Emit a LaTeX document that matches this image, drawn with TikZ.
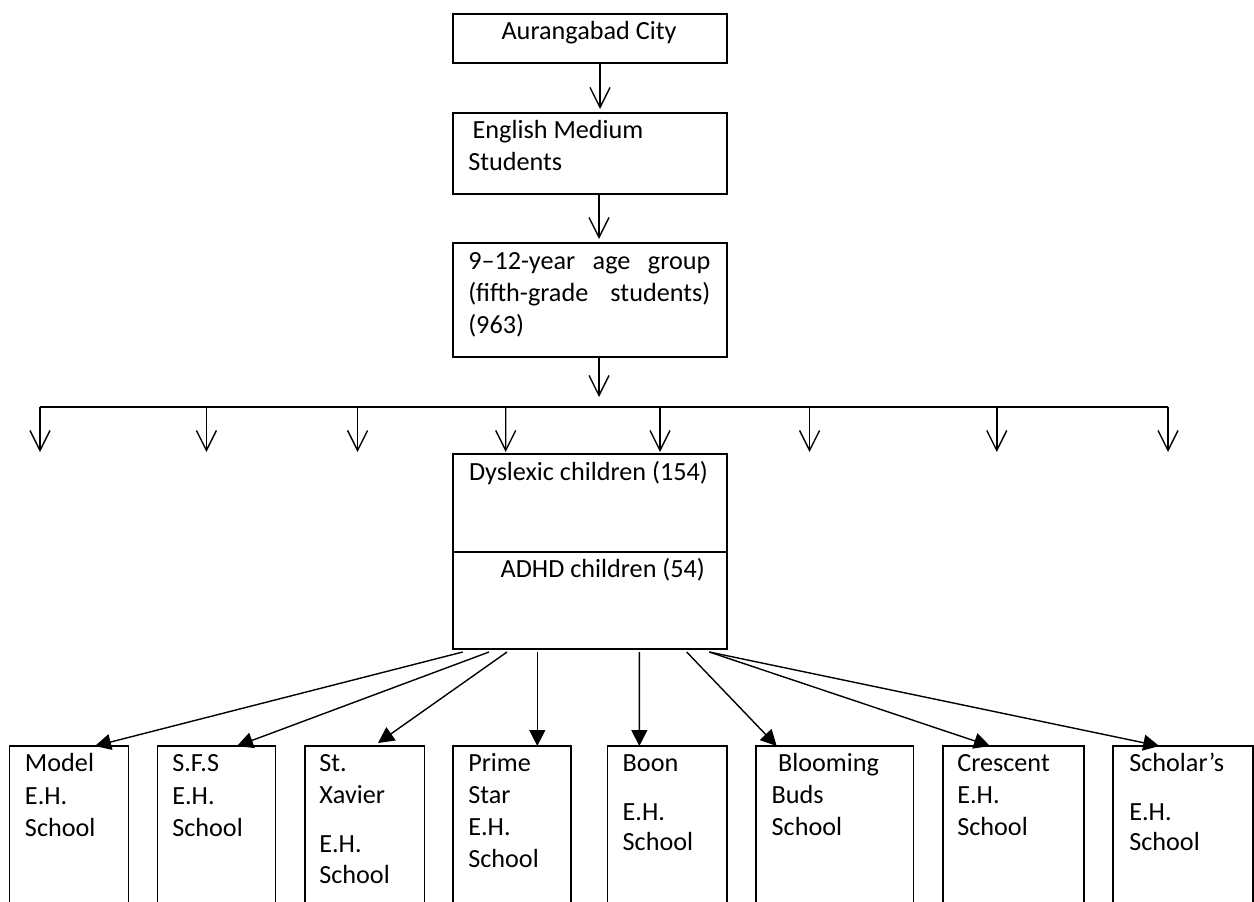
\documentclass[tikz,border=0pt]{standalone}
\usepackage{fontspec}
\setmainfont{Carlito}
\usetikzlibrary{arrows.meta}
\begin{document}
\begin{tikzpicture}[x=0.5pt,y=-0.5pt,
  box/.style={draw, line width=0.8pt, inner sep=0pt, outer sep=0pt},
  bigbox/.style={box, minimum width=137pt},
  txt/.style={inner sep=0pt, outer sep=0pt, anchor=base west, font=\fontsize{13.1pt}{16pt}\selectfont},
  openarr/.style={line width=0.7pt, -{Straight Barb[length=10pt,width=10pt]}},
  fillarr/.style={line width=0.7pt, -{Triangle[length=8pt,width=8pt]}},
  busline/.style={line width=1.3pt}]
\useasboundingbox (0,0) rectangle (1254,901);
\fill[white] (0,0) rectangle (1254,901);
\clip (0,0) rectangle (1254,901);

% top chain
\node[bigbox, minimum height=24.5pt] (city) at (590,38.5) {};
\node[bigbox, minimum height=40.5pt] (medium) at (590,153.5) {};
\node[bigbox, minimum height=57pt] (age) at (590,300) {};
\node[bigbox, minimum height=97.5pt] (dys) at (590,551.5) {};
\draw[line width=0.8pt] ([yshift=-0.25pt]dys.west) -- ([yshift=-0.25pt]dys.east);

\node[txt, anchor=base] (cityt) at (589,39.5) {Aurangabad City};
\node[txt] (medt1) at (472.7,138.3) {English Medium};
\node[txt] (medt2) at (468.3,170) {Students};
\node[txt] (aget1) at (468.3,269.3) {\hbox to 121pt{9–12-year\hfill age\hfill group}};
\node[txt] (aget2) at (468.3,301.5) {\hbox to 121pt{(fifth-grade\hfill students)}};
\node[txt] (aget3) at (468.3,333.5) {(963)};
\node[txt] (dyst) at (469,480) {Dyslexic children (154)};
\node[txt] (adhdt) at (500.7,577) {ADHD children (54)};

% bottom boxes
\node[box, minimum width=59.5pt, minimum height=92pt] (model) at (68.8,838) {};
\node[box, minimum width=59pt, minimum height=92pt] (sfs) at (216.3,838) {};
\node[box, minimum width=59.8pt, minimum height=92pt] (xav) at (364.5,838) {};
\node[box, minimum width=59pt, minimum height=92pt] (prime) at (511.7,838) {};
\node[box, minimum width=59.85pt, minimum height=92pt] (boon) at (667.15,838) {};
\node[box, minimum width=78.8pt, minimum height=92pt] (bloom) at (834.5,838) {};
\node[box, minimum width=70.65pt, minimum height=92pt] (cres) at (1013.35,838) {};
\node[box, minimum width=70.15pt, minimum height=92pt] (schol) at (1182.85,838) {};

\node[txt] (modelt1) at (25,771.7) {Model};
\node[txt] (modelt2) at (25,804) {E.H.};
\node[txt] (modelt3) at (25,836) {School};

\node[txt] (sfst1) at (172.3,771.7) {S.F.S};
\node[txt] (sfst2) at (172.3,804) {E.H.};
\node[txt] (sfst3) at (172.3,836) {School};

\node[txt] (xavt1) at (319.3,771.7) {St.};
\node[txt] (xavt2) at (319.3,803.3) {Xavier};
\node[txt] (xavt3) at (319.3,852.3) {E.H.};
\node[txt] (xavt4) at (319.3,883.3) {School};

\node[txt] (primet1) at (468.3,771.7) {Prime};
\node[txt] (primet2) at (468.3,803.3) {Star};
\node[txt] (primet3) at (468.3,835) {E.H.};
\node[txt] (primet4) at (468.3,867) {School};

\node[txt] (boont1) at (622.7,771.7) {Boon};
\node[txt] (boont2) at (622.7,820) {E.H.};
\node[txt] (boont3) at (622.7,850.7) {School};

\node[txt] (bloomt1) at (778,771.7) {Blooming};
\node[txt] (bloomt2) at (771.7,803.3) {Buds};
\node[txt] (bloomt3) at (771.7,835) {School};

\node[txt] (crest1) at (957.3,771.7) {Crescent};
\node[txt] (crest2) at (957.3,803.3) {E.H.};
\node[txt] (crest3) at (957.3,835) {School};

\node[txt] (scholt1) at (1129.3,771.7) {Scholar’s};
\node[txt] (scholt2) at (1129.3,820) {E.H.};
\node[txt] (scholt3) at (1129.3,850.7) {School};

% top arrows
\draw[openarr, shorten >=2pt] ([xshift=5pt]city.south) -- ([xshift=5pt]medium.north);
\draw[openarr, shorten >=2pt] ([xshift=4.5pt]medium.south) -- ([xshift=4.5pt]age.north);
\coordinate (busin) at (599,397);
\draw[openarr] ([xshift=4.5pt]age.south) -- (busin);

% bus
\coordinate (busl) at (40,407);
\coordinate (busr) at (1168,407);
\draw[busline] (busl) -- (busr);
\foreach \x/\n in {40/1,206.4/2,357.6/3,809.6/6,996.8/7,1168/8}{
  \coordinate (bt\n) at (\x,407);
  \coordinate (bb\n) at (\x,452);
  \draw[openarr] (bt\n) -- (bb\n);
}
\coordinate (bt4) at (505.7,407);
\coordinate (bt5) at (660,407);
\draw[openarr, shorten >=1pt] (bt4) -- ([xshift=-42.15pt]dys.north);
\draw[openarr, shorten >=1pt] (bt5) -- ([xshift=35pt]dys.north);

% bottom arrows
\draw[fillarr] ([xshift=-63.65pt,yshift=-1.5pt]dys.south) -- ([xshift=13.1pt]model.north);
\draw[fillarr] ([xshift=-50.5pt,yshift=-1.5pt]dys.south) -- ([xshift=10.35pt]sfs.north);
\draw[fillarr] ([xshift=-41.5pt,yshift=-1.5pt]dys.south) -- ([xshift=6.75pt,yshift=1.5pt]xav.north);
\draw[fillarr] ([xshift=-26.35pt,yshift=-1.5pt]dys.south) -- ([xshift=12.8pt]prime.north);
\draw[fillarr] ([xshift=24.65pt,yshift=-1.5pt]dys.south) -- ([xshift=-13.9pt]boon.north);
\draw[fillarr] ([xshift=48.35pt,yshift=-1.5pt]dys.south) -- ([xshift=-28.9pt]bloom.north);
\draw[fillarr] ([xshift=59.65pt,yshift=-1.5pt]dys.south) -- ([xshift=-11.7pt]cres.north);
\draw[fillarr] ([xshift=59.65pt,yshift=-1.5pt]dys.south) -- ([xshift=-11.8pt]schol.north);
\end{tikzpicture}
\end{document}
